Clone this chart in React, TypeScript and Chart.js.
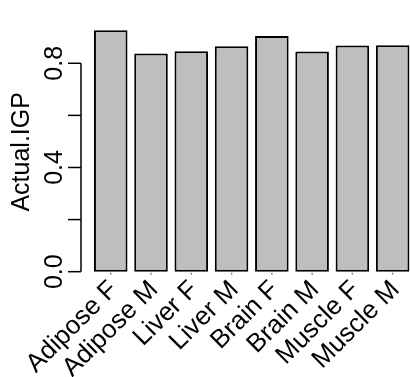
import React, { useEffect, useRef } from "react";
import { Chart, registerables } from "chart.js";

Chart.register(...registerables);

const categories = ["Adipose F", "Adipose M", "Liver F", "Liver M", "Brain F", "Brain M", "Muscle F", "Muscle M"];
const actualIGP = [0.927, 0.838, 0.846, 0.865, 0.905, 0.845, 0.868, 0.869];
const yTicks = [0, 0.2, 0.4, 0.6, 0.8];
const yTickLabels = ["0.0", "", "0.4", "", "0.8"];
const yTitle = "Actual.IGP";

const FONT = "25px 'Liberation Sans', Arial, Helvetica, sans-serif";
const XFONT = "26px 'Liberation Sans', Arial, Helvetica, sans-serif";

const rAxesPlugin = {
  id: "rAxes",
  afterDraw(chart: any) {
    const ctx = chart.ctx;
    const ys = chart.scales.y;
    const xs = chart.scales.x;
    const area = chart.chartArea;
    ctx.save();
    // y axis
    const axX = 81;
    ctx.strokeStyle = "#000";
    ctx.lineWidth = 1.5;
    ctx.beginPath();
    ctx.moveTo(axX, ys.getPixelForValue(yTicks[0]));
    ctx.lineTo(axX, ys.getPixelForValue(yTicks[yTicks.length - 1]));
    ctx.stroke();
    ctx.font = FONT;
    ctx.fillStyle = "#000";
    yTicks.forEach((v, i) => {
      const py = ys.getPixelForValue(v);
      ctx.beginPath();
      ctx.moveTo(axX, py);
      ctx.lineTo(68, py);
      ctx.stroke();
      if (yTickLabels[i]) {
        ctx.save();
        ctx.translate(62, py);
        ctx.rotate(-Math.PI / 2);
        ctx.textAlign = "center";
        ctx.textBaseline = "alphabetic";
        ctx.fillText(yTickLabels[i], 0, 0);
        ctx.restore();
      }
    });
    // y title
    ctx.save();
    ctx.translate(28.5, (area.top + area.bottom) / 2);
    ctx.rotate(-Math.PI / 2);
    ctx.textAlign = "center";
    ctx.textBaseline = "alphabetic";
    ctx.fillText(yTitle, 0, 0);
    ctx.restore();
    // x ticks and labels
    const base = ys.getPixelForValue(0);
    ctx.font = XFONT;
    categories.forEach((c, i) => {
      const px = xs.getPixelForValue(i);
      ctx.strokeStyle = "#888";
      ctx.lineWidth = 1.5;
      ctx.beginPath();
      ctx.moveTo(px, base + 1);
      ctx.lineTo(px, base + 3);
      ctx.stroke();
      ctx.save();
      ctx.translate(px + 8, base + 19);
      ctx.rotate(-Math.PI / 4);
      ctx.textAlign = "right";
      ctx.textBaseline = "alphabetic";
      ctx.fillStyle = "#000";
      ctx.fillText(c, 0, 0);
      ctx.restore();
    });
    ctx.restore();
  },
};

export default function App() {
  const ref = useRef<HTMLCanvasElement | null>(null);
  useEffect(() => {
    if (!ref.current) return;
    const chart = new Chart(ref.current, {
      type: "bar",
      data: {
        labels: categories,
        datasets: [
          {
            data: actualIGP,
            backgroundColor: "#BEBEBE",
            borderColor: "#000",
            borderWidth: 2,
            borderSkipped: false,
            categoryPercentage: 1,
            barPercentage: 1 / 1.2,
          },
        ],
      },
      options: {
        responsive: false,
        animation: false,
        devicePixelRatio: 1,
        layout: { padding: { left: 90.6, right: 1.2, top: 21.6, bottom: 94.9 } },
        plugins: { legend: { display: false }, tooltip: { enabled: false } },
        scales: {
          x: { display: false },
          y: { display: false, min: -0.04, max: 0.96 },
        },
      },
      plugins: [rAxesPlugin],
    });
    return () => chart.destroy();
  }, []);
  return (
    <div style={{ position: "fixed", left: 0, top: 0, width: 410, height: 377, overflow: "hidden", background: "#fff" }}>
      <canvas ref={ref} width={414} height={377} style={{ display: "block", width: 414, height: 377 }} />
    </div>
  );
}
